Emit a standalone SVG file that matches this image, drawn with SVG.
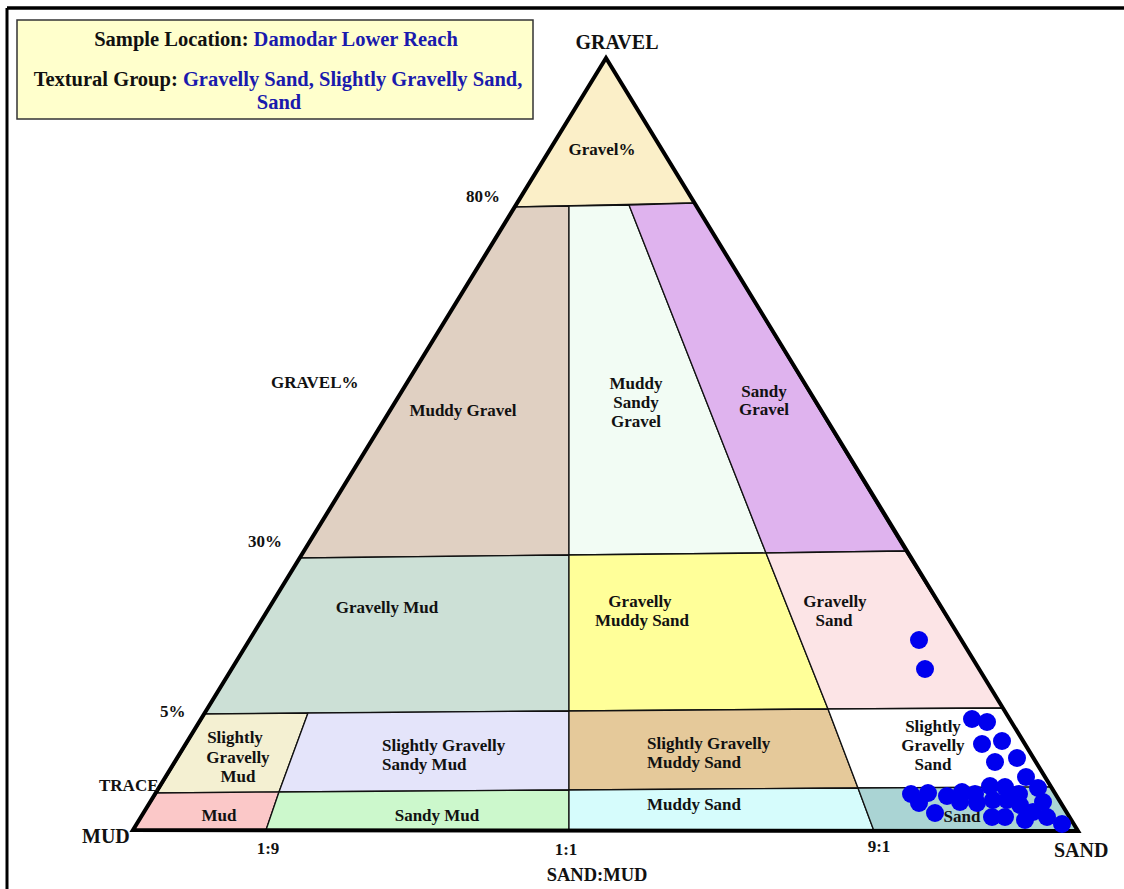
<svg xmlns="http://www.w3.org/2000/svg" width="1124" height="889" viewBox="0 0 1124 889">
<style>
.r{stroke:#111;stroke-width:1.3;stroke-linejoin:round}
.t{font-family:"Liberation Serif","Times New Roman",serif;font-weight:bold;font-size:17px;fill:#111}
.c{text-anchor:middle}
.big{font-size:20px}
.hd{font-family:"Liberation Serif","Times New Roman",serif;font-weight:bold;font-size:20.5px;fill:#111}
.bl{fill:#1a1aad}
.dot{fill:#0000ee}
</style>
<rect x="0" y="0" width="1124" height="889" fill="#ffffff"/>
<g id="frame">
<line x1="7" y1="8" x2="1124" y2="8" stroke="#000" stroke-width="3.5"/>
<line x1="7" y1="8" x2="7" y2="889" stroke="#000" stroke-width="3"/>
</g>
<g id="legend">
<rect x="17" y="20" width="516" height="99" fill="#ffffcc" stroke="#333" stroke-width="1.5"/>
<text class="hd c" x="276" y="46">Sample Location: <tspan class="bl">Damodar Lower Reach</tspan></text>
<text class="hd c" x="278" y="86">Textural Group: <tspan class="bl">Gravelly Sand, Slightly Gravelly Sand,</tspan></text>
<text class="hd c bl" x="279" y="109">Sand</text>
</g>
<g id="gravel-pct">
<polygon class="r" fill="#fbefc8" points="606,58 694,203 515,207"/>
<text class="t c" x="602" y="155">Gravel%</text>
</g>
<g id="muddy-gravel">
<polygon class="r" fill="#e0d0c2" points="515,207 569,206 569,555 300,558"/>
<text class="t c" x="463" y="416">Muddy Gravel</text>
</g>
<g id="muddy-sandy-gravel">
<polygon class="r" fill="#f2fcf4" points="569,206 629,205 766,553 569,555"/>
<text class="t c" x="636" y="389">Muddy</text>
<text class="t c" x="636" y="408">Sandy</text>
<text class="t c" x="636" y="427">Gravel</text>
</g>
<g id="sandy-gravel">
<polygon class="r" fill="#dfb3ee" points="629,205 694,203 905,551 766,553"/>
<text class="t c" x="764" y="397">Sandy</text>
<text class="t c" x="764" y="415">Gravel</text>
</g>
<g id="gravelly-mud">
<polygon class="r" fill="#cce0d6" points="300,558 569,555 569,711 205,714"/>
<text class="t c" x="387" y="613">Gravelly Mud</text>
</g>
<g id="gravelly-muddy-sand">
<polygon class="r" fill="#ffff99" points="569,555 766,553 828,709 569,711"/>
<text class="t c" x="640" y="607">Gravelly</text>
<text class="t c" x="642" y="626">Muddy Sand</text>
</g>
<g id="gravelly-sand">
<polygon class="r" fill="#fce4e6" points="766,553 905,551 1003,708 828,709"/>
<text class="t c" x="835" y="607">Gravelly</text>
<text class="t c" x="834" y="626">Sand</text>
</g>
<g id="slightly-gravelly-mud">
<polygon class="r" fill="#f4f0d2" points="205,714 308,713 279,792 157,793"/>
<text class="t c" x="235" y="743">Slightly</text>
<text class="t c" x="238" y="763">Gravelly</text>
<text class="t c" x="238" y="782">Mud</text>
</g>
<g id="slightly-gravelly-sandy-mud">
<polygon class="r" fill="#e4e4fa" points="308,713 569,711 569,790 279,792"/>
<text class="t" x="382" y="751">Slightly Gravelly</text>
<text class="t" x="382" y="770">Sandy Mud</text>
</g>
<g id="slightly-gravelly-muddy-sand">
<polygon class="r" fill="#e5c99a" points="569,711 828,709 858,788 569,790"/>
<text class="t" x="647" y="749">Slightly Gravelly</text>
<text class="t" x="647" y="768">Muddy Sand</text>
</g>
<g id="slightly-gravelly-sand">
<polygon class="r" fill="#ffffff" points="828,709 1003,708 1052,787 858,788"/>
<text class="t c" x="933" y="732">Slightly</text>
<text class="t c" x="933" y="751">Gravelly</text>
<text class="t c" x="933" y="770">Sand</text>
</g>
<g id="mud">
<polygon class="r" fill="#fbc8c8" points="157,793 279,792 266,830 133,830"/>
<text class="t c" x="219" y="821">Mud</text>
</g>
<g id="sandy-mud">
<polygon class="r" fill="#ccf8cc" points="279,792 569,790 569,830 266,830"/>
<text class="t c" x="437" y="821">Sandy Mud</text>
</g>
<g id="muddy-sand">
<polygon class="r" fill="#d6fcfc" points="569,790 858,788 874,831 569,830"/>
<text class="t c" x="694" y="810">Muddy Sand</text>
</g>
<g id="sand">
<polygon class="r" fill="#aad4d4" points="858,788 1052,787 1078,831 874,831"/>
<text class="t c" x="962" y="822">Sand</text>
</g>
<g id="connectors">
<polygon points="606,58 1078,831 133,830" fill="none" stroke="#000" stroke-width="4" stroke-linejoin="miter"/>
</g>
<g id="axis-labels">
<text class="t c big" x="617" y="49">GRAVEL</text>
<text class="t" x="466" y="202">80%</text>
<text class="t" x="271" y="388">GRAVEL%</text>
<text class="t" x="248" y="547">30%</text>
<text class="t" x="160" y="717">5%</text>
<text class="t" x="99" y="791">TRACE</text>
<text class="t big" x="82" y="843">MUD</text>
<text class="t c" x="268" y="854">1:9</text>
<text class="t c" x="566" y="855">1:1</text>
<text class="t c" x="879" y="852">9:1</text>
<text class="t c" x="597" y="881" style="font-size:18.5px">SAND:MUD</text>
<text class="t big" x="1054" y="857">SAND</text>
</g>
<g id="samples">
<circle class="dot" cx="919" cy="640" r="9"/>
<circle class="dot" cx="925" cy="669" r="9"/>
<circle class="dot" cx="972" cy="719" r="9"/>
<circle class="dot" cx="987" cy="722" r="9"/>
<circle class="dot" cx="1002" cy="741" r="9"/>
<circle class="dot" cx="982" cy="744" r="9"/>
<circle class="dot" cx="1017" cy="758" r="9"/>
<circle class="dot" cx="995" cy="762" r="9"/>
<circle class="dot" cx="1026" cy="777" r="9"/>
<circle class="dot" cx="911" cy="794" r="9"/>
<circle class="dot" cx="919" cy="803" r="9"/>
<circle class="dot" cx="928" cy="793" r="9"/>
<circle class="dot" cx="935" cy="813" r="9"/>
<circle class="dot" cx="947" cy="796" r="9"/>
<circle class="dot" cx="960" cy="802" r="9"/>
<circle class="dot" cx="962" cy="792" r="9"/>
<circle class="dot" cx="975" cy="794" r="9"/>
<circle class="dot" cx="977" cy="803" r="9"/>
<circle class="dot" cx="990" cy="786" r="9"/>
<circle class="dot" cx="993" cy="800" r="9"/>
<circle class="dot" cx="992" cy="817" r="9"/>
<circle class="dot" cx="1005" cy="787" r="9"/>
<circle class="dot" cx="1007" cy="800" r="9"/>
<circle class="dot" cx="1005" cy="817" r="9"/>
<circle class="dot" cx="1019" cy="794" r="9"/>
<circle class="dot" cx="1020" cy="805" r="9"/>
<circle class="dot" cx="1025" cy="820" r="9"/>
<circle class="dot" cx="1033" cy="812" r="9"/>
<circle class="dot" cx="1038" cy="788" r="9"/>
<circle class="dot" cx="1043" cy="802" r="9"/>
<circle class="dot" cx="1047" cy="817" r="9"/>
<circle class="dot" cx="1062" cy="824" r="9"/>
</g>
</svg>
